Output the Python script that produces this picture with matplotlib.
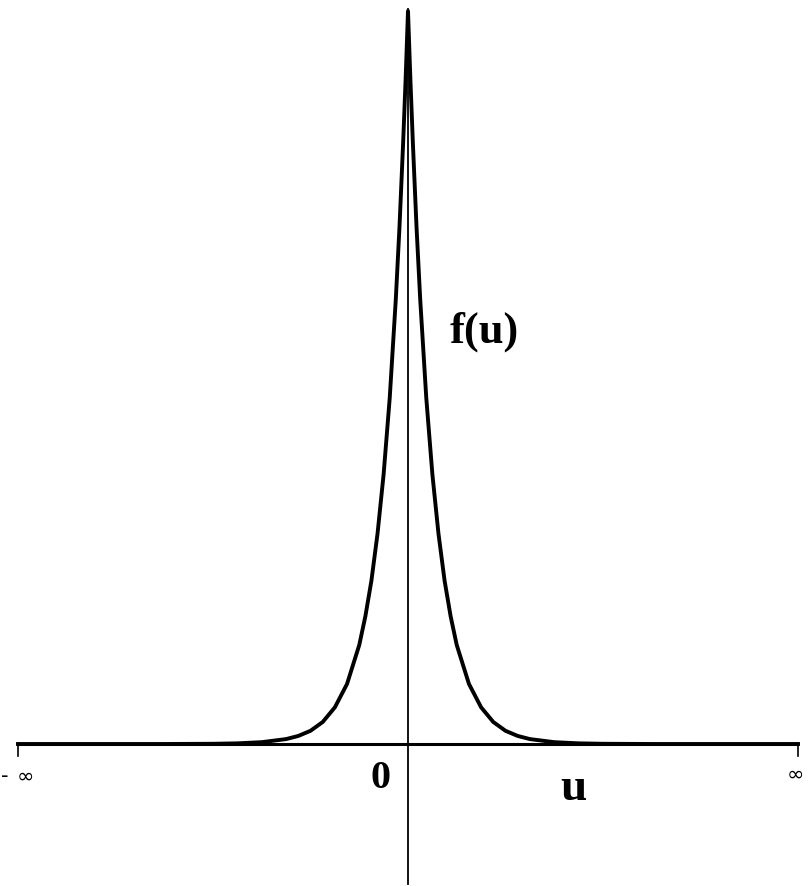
import matplotlib
matplotlib.use("Agg")
import matplotlib.pyplot as plt

# curve (u in units of the scale b, f relative to peak)
u_vals = [-16, -10, -8, -7, -6, -5, -4.5, -4, -3.5, -3, -2.5, -2, -1.75, -1.5, -1.25,
          -1, -0.75, -0.5, -0.35, -0.2, -0.1, 0,
          0.1, 0.2, 0.35, 0.5, 0.75, 1, 1.25, 1.5, 1.75, 2, 2.5, 3, 3.5,
          4, 4.5, 5, 6, 7, 8, 10, 16]
f_vals = [0, 0, 0.0003, 0.0009, 0.0025, 0.0067, 0.011, 0.018, 0.03, 0.05, 0.082, 0.135, 0.174, 0.223, 0.287,
          0.368, 0.472, 0.607, 0.705, 0.82, 0.905, 1.0,
          0.905, 0.82, 0.705, 0.607, 0.472, 0.368, 0.287, 0.223, 0.174, 0.135, 0.082, 0.05, 0.03,
          0.018, 0.011, 0.0067, 0.0025, 0.0009, 0.0003, 0, 0]

axis_ends = [-16, 16]

W, H = 811, 887
fig = plt.figure(figsize=(W / 100, H / 100), dpi=100)
ax = fig.add_axes([0, 0, 1, 1])
ax.set_xlim(-408 / 24.375, (W - 408) / 24.375)
ax.set_ylim(-(H - 745) / 733, 745 / 733)
ax.axis("off")

# axes drawn as plain lines
ax.plot(axis_ends, [0, 0], color="black", lw=2.2, solid_capstyle="butt")
tick = -12 / 733
ax.plot([axis_ends[0], axis_ends[0]], [0, tick], color="black", lw=1.2)
ax.plot([axis_ends[1], axis_ends[1]], [0, tick], color="black", lw=1.2)
ax.plot([0, 0], [(745 - 10) / 733, -(885 - 745) / 733], color="black", lw=1.3)

ax.plot(u_vals, f_vals, color="black", lw=2.8, solid_joinstyle="round")

def px(x, y):
    return x / W, 1 - y / H

serif = dict(family="Liberation Serif", fontweight="bold", color="black",
             transform=ax.transAxes, ha="center", va="center")
ax.text(*px(381, 779), "0", fontsize=29, **serif)
ax.text(*px(573, 789), "u", fontsize=34, **serif)
ax.text(*px(484, 332), "f(u)", fontsize=32, **serif)

small = dict(family="DejaVu Sans", color="black", transform=ax.transAxes,
             ha="center", va="center", fontsize=15)
ax.text(*px(5, 776), "-", **small)
ax.text(*px(25, 777), "\u221e", **small)
ax.text(*px(795, 775), "\u221e", **small)

fig.savefig("out.png", dpi=100)
